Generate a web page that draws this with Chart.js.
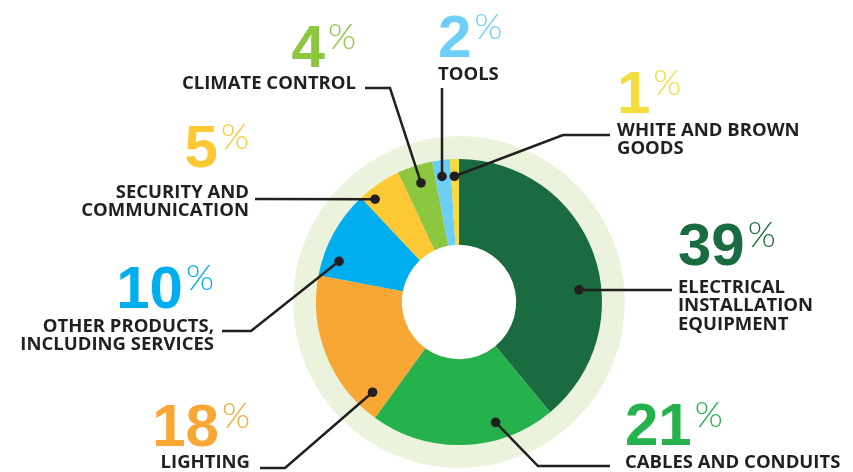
<!DOCTYPE html>
<html>
<head>
<meta charset="utf-8">
<script src="https://cdn.jsdelivr.net/npm/chart.js@4.4.1/dist/chart.umd.min.js"></script>
<style>
  html, body { margin: 0; padding: 0; background: #fff; }
  #wrap { width: 853px; height: 472px; }
</style>
</head>
<body>
<div id="wrap"><canvas id="salesChart" width="853" height="472"></canvas></div>
<script>
const categories = [
    ["ELECTRICAL", "INSTALLATION", "EQUIPMENT"],
    ["CABLES AND CONDUITS"],
    ["LIGHTING"],
    ["OTHER PRODUCTS,", "INCLUDING SERVICES"],
    ["SECURITY AND", "COMMUNICATION"],
    ["CLIMATE CONTROL"],
    ["TOOLS"],
    ["WHITE AND BROWN", "GOODS"]
];
const shares = [39, 21, 18, 10, 5, 4, 2, 1];
const colors = ["#1a6c40", "#25b14c", "#f8a634", "#00aeef", "#fcc934", "#8dc63f", "#6dcff6", "#f3dc3b"];

// where the callout dot sits inside each slice (fraction of slice angle / of ring depth)
const dotAt = [0.60, 0.30, 0.12, 0.22, 0.22, 0.52, 0.43, 0.42];
const dotDepth = [0.74, 0.80, 0.79, 0.81, 0.88, 0.79, 0.81, 0.80];

// label layout: text anchor, alignment, number baseline, first text line, leader line points
const callouts = [
    { x: 678, align: "left",  numY: 265, textY: 288, line: [[672, 290]] },
    { x: 625, align: "left",  numY: 445, textY: 463, line: [[538, 466], [610, 466]] },
    { x: 250, align: "right", numY: 446, textY: 463, line: [[285, 468], [260, 468]] },
    { x: 214, align: "right", numY: 308, textY: 327, line: [[251, 331], [222, 331]] },
    { x: 249, align: "right", numY: 167, textY: 193, line: [[255, 199]] },
    { x: 356, align: "right", numY: 67,  textY: 84,  line: [[390, 88], [365, 88]] },
    { x: 438, align: "left",  numY: 57,  textY: 75,  line: [[442, 88]] },
    { x: 617, align: "left",  numY: 113, textY: 131, line: [[563, 135], [610, 135]] }
];

const ringPlugin = {
    id: "ring",
    beforeDatasetsDraw(chart) {
        const arc = chart.getDatasetMeta(0).data[0];
        if (!arc) return;
        const c = chart.ctx;
        c.save();
        c.fillStyle = "#ebf3dc";
        c.beginPath();
        c.arc(arc.x, arc.y, arc.outerRadius * 1.16, 0, Math.PI * 2);
        c.arc(arc.x, arc.y, arc.innerRadius, 0, Math.PI * 2, true);
        c.fill("evenodd");
        c.restore();
    }
};

const calloutPlugin = {
    id: "callouts",
    afterDatasetsDraw(chart) {
        const c = chart.ctx;
        const arcs = chart.getDatasetMeta(0).data;
        c.save();
        arcs.forEach((arc, i) => {
            const co = callouts[i];
            const a = arc.startAngle + dotAt[i] * (arc.endAngle - arc.startAngle);
            const r = arc.innerRadius + dotDepth[i] * (arc.outerRadius - arc.innerRadius);
            const dx = arc.x + r * Math.cos(a);
            const dy = arc.y + r * Math.sin(a);

            // leader line
            c.strokeStyle = "#231f20";
            c.lineWidth = 2.5;
            c.beginPath();
            c.moveTo(dx, dy);
            co.line.forEach(p => c.lineTo(p[0], p[1]));
            c.stroke();

            c.fillStyle = "#231f20";
            c.beginPath();
            c.arc(dx, dy, 4.8, 0, Math.PI * 2);
            c.fill();

            // big number + thin percent sign
            const num = String(shares[i]);
            c.font = "bold 60px 'Liberation Sans', Arial, sans-serif";
            const nw = c.measureText(num).width;
            c.font = "300 36px Lato, sans-serif";
            const pw = c.measureText("%").width;
            const total = nw + 3 + pw;
            const left = co.align === "left" ? co.x : co.x - total;
            c.textAlign = "left";
            c.textBaseline = "alphabetic";
            c.fillStyle = colors[i];
            c.font = "bold 60px 'Liberation Sans', Arial, sans-serif";
            c.fillText(num, left, co.numY);
            c.font = "300 36px Lato, sans-serif";
            c.fillText("%", left + nw + 3, co.numY - 18);

            // category text
            c.fillStyle = "#231f20";
            c.font = "bold 18.5px 'Open Sans', sans-serif";
            c.textAlign = co.align;
            c.textBaseline = "middle";
            categories[i].forEach((t, k) => c.fillText(t, co.x, co.textY + k * 18.2));
        });
        c.restore();
    }
};

new Chart(document.getElementById("salesChart"), {
    type: "doughnut",
    data: {
        labels: categories.map(l => l.join(" ")),
        datasets: [{
            data: shares,
            backgroundColor: colors,
            borderWidth: 0
        }]
    },
    options: {
        responsive: false,
        animation: false,
        cutout: "40%",
        layout: { padding: { left: 316, right: 251, top: 159, bottom: 27 } },
        plugins: {
            legend: { display: false },
            tooltip: { enabled: false }
        }
    },
    plugins: [ringPlugin, calloutPlugin]
});
</script>
</body>
</html>
